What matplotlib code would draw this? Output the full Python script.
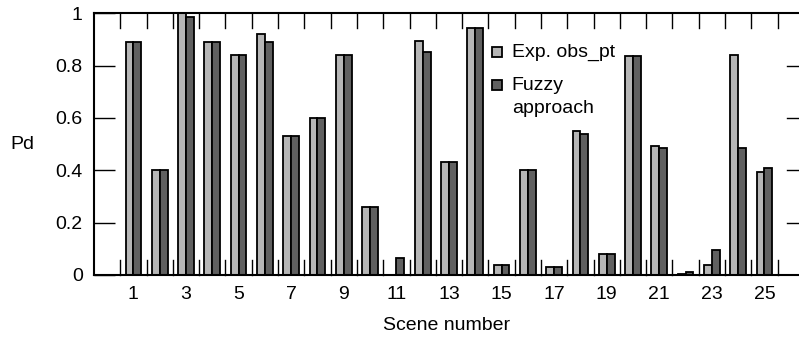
import numpy as np
import matplotlib.pyplot as plt

plt.rcParams['font.family'] = ['Liberation Sans', 'DejaVu Sans']

scenes = np.arange(1, 26)
exp_obs = [0.89, 0.40, 1.00, 0.89, 0.84, 0.92, 0.53, 0.60, 0.84, 0.26,
           0.00, 0.895, 0.43, 0.945, 0.037, 0.40, 0.032, 0.548, 0.08, 0.838,
           0.494, 0.005, 0.037, 0.84, 0.394]
fuzzy = [0.89, 0.40, 0.985, 0.89, 0.84, 0.89, 0.53, 0.60, 0.84, 0.26,
         0.065, 0.852, 0.43, 0.945, 0.037, 0.40, 0.032, 0.538, 0.08, 0.838,
         0.484, 0.012, 0.097, 0.484, 0.41]
xtick_labels = [str(i) for i in range(1, 26, 2)]
yticks = [0, 0.2, 0.4, 0.6, 0.8, 1]
ytick_labels = ['0', '0.2', '0.4', '0.6', '0.8', '1']

light = '#b6b6b6'
dark = '#606060'
fs = 14

fig = plt.figure(figsize=(7.99, 3.37), dpi=100)
ax = fig.add_axes([0.1176, 0.184, 0.882, 0.777])

w = 0.3
ax.bar(scenes - w / 2, exp_obs, width=w, color=light, edgecolor='black', linewidth=1.3)
ax.bar(scenes + w / 2, fuzzy, width=w, color=dark, edgecolor='black', linewidth=1.3)

xmax = 26.3
ax.set_xlim(-0.5, xmax)
ax.set_ylim(0, 1)

# labels at odd scenes, ticks between the bar pairs
ax.set_xticks(range(1, 26, 2))
ax.set_xticklabels(xtick_labels, fontsize=fs)
ax.tick_params(axis='x', length=0, pad=8)
for x in np.arange(0.5, 26, 1):
    ax.plot([x, x], [0, 0.057], color='black', lw=1, clip_on=False)
    ax.plot([x, x], [1, 0.945], color='black', lw=1, clip_on=False)

ax.set_yticks(yticks)
ax.set_yticklabels(ytick_labels, fontsize=fs)
ax.tick_params(axis='y', direction='in', length=15, width=1, pad=8)
for y in yticks[1:-1]:
    ax.plot([xmax - 0.45, xmax], [y, y], color='black', lw=1, clip_on=False)

for s in ax.spines.values():
    s.set_linewidth(1.5)
ax.spines['right'].set_visible(False)

ax.set_xlabel('Scene number', fontsize=fs, labelpad=10)
ax.set_ylabel('Pd', fontsize=fs, rotation=0, labelpad=24, va='center')

# legend drawn by hand so the marker sits next to the first line
tr = ax.transAxes
ax.plot([0.5716], [0.851], 's', ms=7, mfc=light, mec='black', mew=1.3,
        transform=tr, clip_on=False)
ax.plot([0.5716], [0.727], 's', ms=7, mfc=dark, mec='black', mew=1.3,
        transform=tr, clip_on=False)
ax.text(0.593, 0.851, 'Exp. obs_pt', transform=tr, fontsize=fs, va='center')
ax.text(0.593, 0.725, 'Fuzzy', transform=tr, fontsize=fs, va='center')
ax.text(0.593, 0.637, 'approach', transform=tr, fontsize=fs, va='center')

fig.savefig('out.png', dpi=100)
